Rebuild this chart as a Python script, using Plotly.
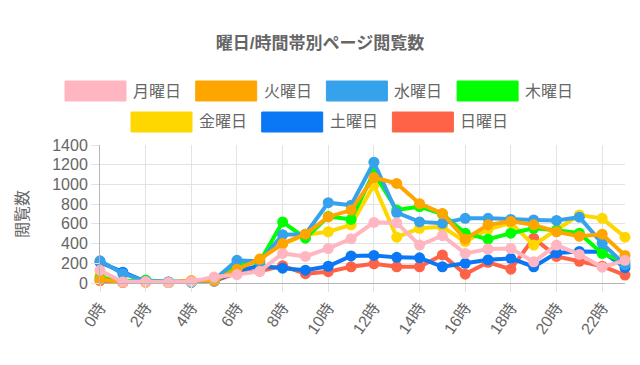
import plotly.graph_objects as go

hours = list(range(24))
hour_labels = [f"{h}時" for h in hours]
series_names = ["月曜日", "火曜日", "水曜日", "木曜日", "金曜日", "土曜日", "日曜日"]
colors = ["#FFB6C1", "#FFA500", "#36A2EB", "#00FF00", "#FFD700", "#0A78F5", "#FF6347"]

mon = [130, 10, 15, 5, 15, 60, 85, 120, 300, 270, 350, 450, 615, 610, 385, 480, 300, 345, 350, 215, 385, 290, 160, 230]
tue = [35, 10, 10, 5, 25, 25, 140, 240, 400, 495, 670, 740, 1070, 1010, 805, 705, 445, 590, 625, 590, 520, 475, 495, 280]
wed = [225, 95, 20, 10, 10, 30, 230, 220, 490, 495, 815, 790, 1225, 715, 620, 605, 656, 656, 645, 640, 635, 668, 402, 185]
thu = [50, 15, 30, 5, 10, 25, 185, 215, 620, 455, 675, 645, 1120, 740, 775, 700, 505, 445, 505, 555, 535, 505, 300, 215]
fri = [80, 10, 10, 5, 15, 25, 150, 245, 395, 490, 520, 590, 995, 465, 555, 570, 420, 545, 610, 385, 540, 690, 656, 465]
sat = [210, 110, 15, 10, 10, 20, 120, 175, 150, 130, 170, 275, 280, 260, 255, 165, 200, 235, 250, 165, 305, 320, 318, 155]
sun = [25, 5, 10, 5, 10, 20, 100, 120, 175, 95, 115, 165, 195, 165, 165, 285, 90, 210, 140, 455, 270, 220, 170, 81]
all_series = [mon, tue, wed, thu, fri, sat, sun]

y_ticks = [0, 200, 400, 600, 800, 1000, 1200, 1400]
x_tick_vals = list(range(0, 24, 2))

W, H = 640, 365
L, R, T, B = 100, 15, 145, 82
pw, ph = W - L - R, H - T - B

def px2x(px):
    return (px - L) / pw

def py2y(py):
    return (H - B - py) / ph

font_family = "Liberation Sans, Arial, Noto Sans CJK JP, sans-serif"
grey = "#666666"

fig = go.Figure()
# Chart.js draws the first dataset on top -> add in reverse
for name, vals, col in reversed(list(zip(series_names, all_series, colors))):
    fig.add_trace(go.Scatter(
        x=hours, y=vals, name=name, mode="lines+markers",
        line=dict(color=col, width=4),
        marker=dict(color=col, size=11),
        showlegend=False, cliponaxis=False, hoverinfo="skip",
    ))

# custom Chart.js-like legend
shapes = []
annotations = []
rows = [(series_names[:4], colors[:4], 65, 91), (series_names[4:], colors[4:], 131, 122)]
step = 130.7
for names, cols, x0, yc in rows:
    for i, (nm, col) in enumerate(zip(names, cols)):
        bx = x0 + i * step
        shapes.append(dict(type="rect", xref="paper", yref="paper",
                           x0=px2x(bx), x1=px2x(bx + 61),
                           y0=py2y(yc - 10), y1=py2y(yc + 10),
                           fillcolor=col, line=dict(color=col, width=1)))
        annotations.append(dict(xref="paper", yref="paper", x=px2x(bx + 66), y=py2y(yc),
                                xanchor="left", yanchor="middle", text=nm, showarrow=False,
                                font=dict(size=16, color=grey, family=font_family)))

annotations.append(dict(xref="paper", yref="paper", x=px2x(22), y=py2y(214),
                        xanchor="center", yanchor="middle", text="閲覧数", textangle=-90,
                        showarrow=False, font=dict(size=16, color=grey, family=font_family)))

fig.update_layout(
    width=W, height=H,
    margin=dict(l=L, r=R, t=T, b=B),
    paper_bgcolor="white", plot_bgcolor="white",
    title=dict(text="<b>曜日/時間帯別ページ閲覧数</b>", x=0.5, xanchor="center",
               y=1 - 43 / H, yanchor="middle", yref="container",
               font=dict(size=17, color=grey, family=font_family)),
    shapes=shapes, annotations=annotations,
    font=dict(family=font_family, color=grey, size=16),
    hovermode=False,
)
fig.update_xaxes(range=[0, 23], tickvals=x_tick_vals, ticktext=[hour_labels[i] for i in x_tick_vals],
                 tickangle=-55, showgrid=True, gridcolor="#e3e3e3", gridwidth=1,
                 showline=True, linecolor="#b5b5b5", linewidth=1, automargin=False,
                 ticks="outside", ticklen=8, tickcolor="#e3e3e3",
                 tickfont=dict(size=16, color=grey), zeroline=False)
fig.update_yaxes(range=[0, 1400], tickvals=y_ticks, showgrid=True, gridcolor="#e3e3e3", gridwidth=1,
                 showline=True, linecolor="#b5b5b5", linewidth=1, automargin=False,
                 ticks="outside", ticklen=8, tickcolor="#e3e3e3",
                 tickfont=dict(size=16, color=grey), zeroline=False)

fig.write_html("out.html", config={"displayModeBar": False},
               post_script="document.body.style.margin='0';")
